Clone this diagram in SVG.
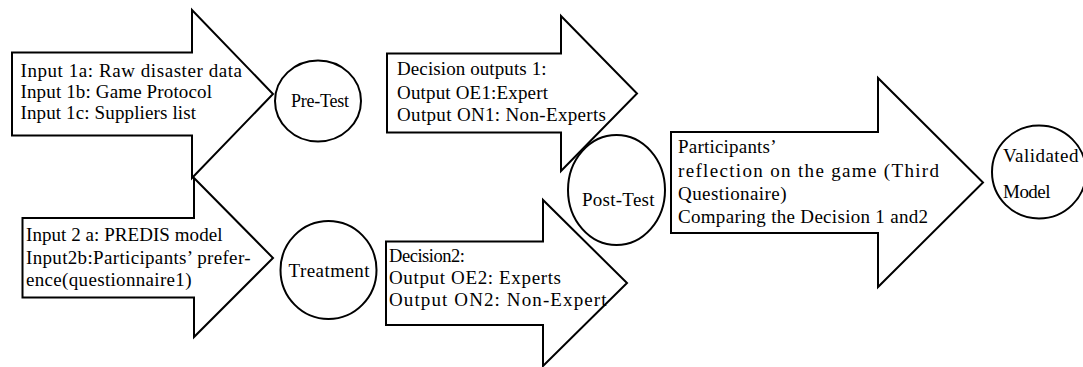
<svg xmlns="http://www.w3.org/2000/svg" width="1083" height="367" viewBox="0 0 1083 367">
<style>
.shape{fill:#fff;stroke:#000;stroke-width:2;stroke-linejoin:miter}
.t{font-family:"Liberation Serif","Times New Roman",serif;font-size:19px;fill:#000}
.s{font-size:18px}
.d{font-size:18.5px}
</style>
<rect width="1083" height="367" fill="#fff"/>
<g id="connectors"></g>
<g id="arrow-inputs1">
<path class="shape" d="M12,52.5 L192,52.5 L192,10 L273,94 L192,178 L192,135.5 L12,135.5 Z"/>
<text class="t" x="20.5" y="76.5" textLength="221.5">Input 1a: Raw disaster data</text>
<text class="t" x="20.5" y="97.5" textLength="191.5">Input 1b: Game Protocol</text>
<text class="t" x="20.5" y="118.5" textLength="175.5">Input 1c: Suppliers list</text>
</g>
<g id="arrow-inputs2">
<path class="shape" d="M22.5,218 L194,218 L194,178 L273,258 L194,337 L194,297.5 L22.5,297.5 Z"/>
<text class="t" x="26" y="241" textLength="196.5">Input 2 a: PREDIS model</text>
<text class="t" x="26" y="263.5" textLength="224.5">Input2b:Participants’ prefer-</text>
<text class="t" x="26" y="286" textLength="165.5">ence(questionnaire1)</text>
</g>
<g id="pre-test">
<ellipse class="shape" cx="318" cy="101" rx="43" ry="40.5"/>
<text class="t s" x="291" y="106.5" textLength="58">Pre-Test</text>
</g>
<g id="treatment">
<ellipse class="shape" cx="328.5" cy="270" rx="48" ry="49"/>
<text class="t" x="288.5" y="276.5" textLength="81">Treatment</text>
</g>
<g id="arrow-decision1">
<path class="shape" d="M387,53.5 L561,53.5 L561,16 L637,93.5 L561,171 L561,132.5 L387,132.5 Z"/>
<text class="t" x="397" y="74.5" textLength="149.5">Decision outputs 1:</text>
<text class="t" x="397" y="98.5" textLength="151">Output OE1:Expert</text>
<text class="t" x="397" y="121" textLength="209">Output ON1: Non-Experts</text>
</g>
<g id="arrow-decision2">
<path class="shape" d="M386,241.5 L543,241.5 L543,200 L627,283 L543,366 L543,325 L386,325 Z"/>
<text class="t d" x="389" y="262" textLength="76">Decision2:</text>
<text class="t" x="389" y="284" textLength="172">Output OE2: Experts</text>
<text class="t" x="389" y="306" textLength="217.5">Output ON2: Non-Expert</text>
</g>
<g id="post-test">
<ellipse class="shape" cx="616.5" cy="190" rx="48.5" ry="55"/>
<text class="t" x="582" y="205.5" textLength="72.5">Post-Test</text>
</g>
<g id="arrow-reflection">
<path class="shape" d="M671,132 L878,132 L878,78 L983,182.5 L878,287 L878,233 L671,233 Z"/>
<text class="t" x="678" y="153" textLength="98.5">Participants’</text>
<text class="t" x="678" y="176.5" textLength="261">reflection on the game (Third</text>
<text class="t" x="678" y="200" textLength="108.5">Questionaire)</text>
<text class="t" x="678" y="223" textLength="250">Comparing the Decision 1 and2</text>
</g>
<g id="validated-model">
<ellipse class="shape" cx="1039" cy="172" rx="47" ry="46.5"/>
<text class="t" x="1003" y="162" textLength="75.5">Validated</text>
<text class="t" x="1003" y="198" textLength="47.5">Model</text>
</g>
</svg>
